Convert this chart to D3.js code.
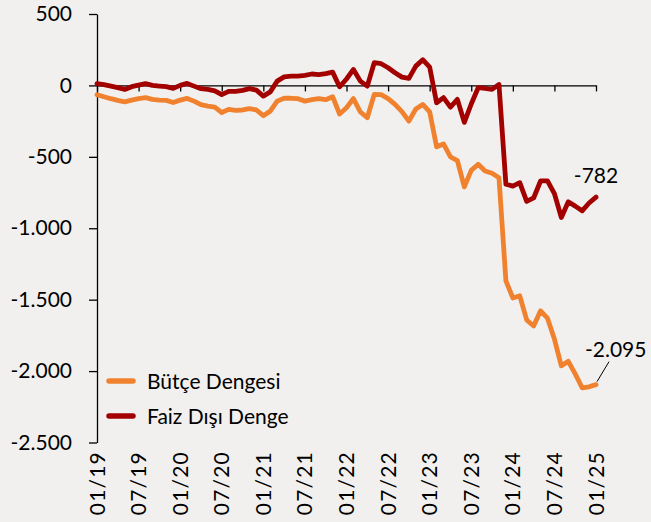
<!DOCTYPE html>
<html>
<head>
<meta charset="utf-8">
<script src="https://cdn.jsdelivr.net/npm/d3@7"></script>
<style>
  html, body { margin: 0; padding: 0; background: #f2f0ee; }
  svg { display: block; font-family: Lato, "Noto Sans", sans-serif; }
</style>
</head>
<body>
<svg width="651" height="522"></svg>
<script>
var svg = d3.select('svg');

//series names, in legend order
var seriesNames = ['Bütçe Dengesi', 'Faiz Dışı Denge'];
var seriesColors = ['#f0822f', '#a30000'];

//12 month rolling balances, billion TL, 01/19 .. 01/25
var butce = [
  -65, -79, -93, -105, -115, -103, -93, -86, -98, -103, -105, -120,
  -103, -91, -110, -135, -145, -152, -190, -168, -175, -172, -163, -172,
  -212, -180, -110, -90, -90, -93, -110, -100, -92, -100, -79, -200,
  -156, -92, -186, -226, -63, -65, -92, -133, -184, -250, -165, -133,
  -185, -430, -410, -500, -526, -710, -595, -552, -599, -615, -646, -1368,
  -1488, -1473, -1642, -1684, -1578, -1630, -1776, -1963, -1932, -2020, -2117, -2110,
  -2095
];
var faizDisi = [
  12, 5, -5, -16, -28, -9, 2, 12, 0, -5, -9, -21,
  0, 14, -5, -23, -28, -38, -65, -42, -42, -35, -23, -33,
  -75, -45, 30, 60, 65, 65, 70, 80, 76, 82, 93, -10,
  45, 112, 30, -5, 159, 152, 124, 89, 58, 49, 135, 180,
  128, -121, -85, -152, -98, -259, -130, -16, -20, -28, 7, -692,
  -705, -681, -812, -788, -669, -668, -757, -925, -815, -845, -878, -823,
  -782
];

//axis labels
var tickLabels = ['01/19', '07/19', '01/20', '07/20', '01/21', '07/21', '01/22',
                  '07/22', '01/23', '07/23', '01/24', '07/24', '01/25'];
var yTicks = [500, 0, -500, -1000, -1500, -2000, -2500];

//month keys 01/19 .. 01/25
var months = [];
for (var yr = 19; yr <= 25; yr++) {
  for (var m = 1; m <= 12; m++) {
    if (yr == 25 && m > 1) break;
    months.push((m < 10 ? '0' + m : '' + m) + '/' + yr);
  }
}

var locale = d3.formatLocale({decimal: ',', thousands: '.', grouping: [3], currency: ['', ''], minus: '-'});
var fmt = locale.format(',d');

var x = d3.scalePoint().domain(months).range([97, 596]);
var y = d3.scaleLinear().domain([-2500, 500]).range([442.5, 14]);

//y axis
var yAxis = svg.append('g')
  .attr('transform', 'translate(97,0)')
  .call(d3.axisLeft(y).tickValues(yTicks).tickFormat(fmt).tickSize(8).tickSizeOuter(0).tickPadding(17));
yAxis.selectAll('path, line').attr('stroke', '#000').attr('stroke-width', 1.3);
yAxis.selectAll('text').attr('font-size', 21).attr('fill', '#000').attr('font-family', 'Lato');

//x axis sitting on zero
var xAxis = svg.append('g')
  .attr('transform', 'translate(0,' + y(0) + ')')
  .call(d3.axisBottom(x).tickValues(tickLabels).tickFormat('').tickSize(6).tickSizeOuter(0));
xAxis.selectAll('path, line').attr('stroke', '#000').attr('stroke-width', 1.3);

//x labels at the bottom, rotated
svg.append('g').selectAll('text')
  .data(tickLabels)
  .enter()
  .append('text')
  .attr('transform', function(d){ return 'translate(' + x(d) + ',451) rotate(-90)'; })
  .attr('text-anchor', 'end')
  .attr('dy', '0.36em')
  .attr('font-size', 21)
  .attr('letter-spacing', 1.2)
  .attr('fill', '#000')
  .text(function(d){ return d; });

//lines
var line = d3.line()
  .x(function(d, i){ return x(months[i]); })
  .y(function(d){ return y(d); });

[butce, faizDisi].forEach(function(s, k){
  svg.append('path')
    .datum(s)
    .attr('d', line)
    .attr('fill', 'none')
    .attr('stroke', seriesColors[k])
    .attr('stroke-width', 4.8)
    .attr('stroke-linejoin', 'round')
    .attr('stroke-linecap', 'round');
});

//end labels
var last = months.length - 1;
var fx = x(months[last]);
var yRed = y(faizDisi[last]);
svg.append('text')
  .attr('x', fx)
  .attr('y', yRed - 14)
  .attr('text-anchor', 'middle')
  .attr('font-size', 21)
  .attr('fill', '#000')
  .text(fmt(faizDisi[last]));

var yOr = y(butce[last]);
svg.append('line')
  .attr('x1', fx + 1).attr('y1', yOr - 3)
  .attr('x2', fx + 13).attr('y2', yOr - 23)
  .attr('stroke', '#000').attr('stroke-width', 1);
svg.append('text')
  .attr('x', fx - 11)
  .attr('y', yOr - 28)
  .attr('font-size', 21)
  .attr('fill', '#000')
  .text(fmt(butce[last]));

//legend
var legend = svg.append('g').attr('transform', 'translate(107,381)');
seriesNames.forEach(function(name, k){
  var g = legend.append('g').attr('transform', 'translate(0,' + (k * 35) + ')');
  g.append('line')
    .attr('x1', 2).attr('x2', 26)
    .attr('stroke', seriesColors[k])
    .attr('stroke-width', 5.5)
    .attr('stroke-linecap', 'round');
  g.append('text')
    .attr('x', 40)
    .attr('dy', '0.36em')
    .attr('font-size', 21)
    .attr('fill', '#000')
    .text(name);
});
</script>
</body>
</html>
